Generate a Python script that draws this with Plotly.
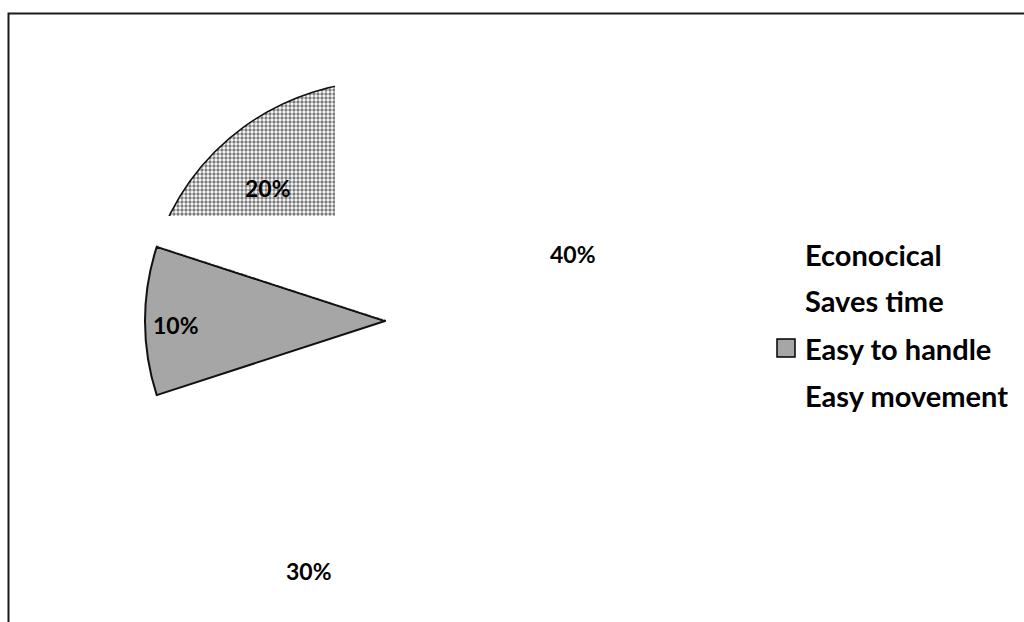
import math
import plotly.graph_objects as go

# Survey shares per reason
categories = ["Econocical", "Saves time", "Easy to handle", "Easy movement"]
shares = [40, 30, 10, 20]

# Slice styling
slice_fills = ["#ffffff", "#ffffff", "#a6a6a6", "#c2c2c2"]
slice_outline = [0, 0, 2, 1.6]
slice_patterns = ["", "", "", "."]
key_fills = [None, None, "#a6a6a6", None]

# Label placement: radius as a fraction of the pie radius, and a small turn (deg)
label_radius = [0.83, 1.09, 0.87, 0.74]
label_turn = [-1.7, -1.0, -1.0, -5.4]

W, H = 1024, 622
CX, CY, R = 385, 321, 240          # pie centre / radius in pixels
FONT = "Lato, Carlito, Calibri, sans-serif"


def fx(x):
    return x / W


def fy(y):
    return 1 - y / H


fig = go.Figure(
    go.Pie(
        labels=categories,
        values=shares,
        sort=False,
        direction="clockwise",
        rotation=0,
        textinfo="none",
        hoverinfo="skip",
        showlegend=False,
        marker=dict(
            colors=slice_fills,
            line=dict(color="#111111", width=slice_outline),
            pattern=dict(shape=slice_patterns, fgcolor="#7c7c7c",
                         size=4, solidity=0.55),
        ),
        domain=dict(x=[fx(CX - R), fx(CX + R)], y=[fy(CY + R), fy(CY - R)]),
    )
)

shapes = []
annotations = []

# Textured slice is only visible inside a window; blank out the rest of it
win_x1, win_y1 = 335, 216
total = sum(shares)
edge_deg = 360 * (1 - shares[-1] / total)          # shared edge with "Easy to handle"
a = math.radians(edge_deg)
u = (math.sin(a), -math.cos(a))
n = (math.cos(a), math.sin(a))
d = 1.2


def on_edge(t):
    return (CX + t * u[0] + d * n[0], CY + t * u[1] + d * n[1])


t_win = (CX - win_x1 + d * n[0]) / -u[0]
q0 = on_edge(0)
q1 = on_edge(t_win)
q2 = on_edge(R + 12)
top = CY - R - 8


def path(points):
    return "M " + " L ".join(f"{fx(x):.5f},{fy(y):.5f}" for x, y in points) + " Z"


mask_right = [(win_x1, top), (CX + 4, top), (CX + 4, q0[1]), q0, q1]
mask_low = [(CX - R - 12, win_y1), (win_x1, win_y1), q1, q2, (CX - R - 12, q2[1])]
for pts in (mask_right, mask_low):
    shapes.append(dict(type="path", path=path(pts), xref="paper", yref="paper",
                       fillcolor="#ffffff", line=dict(width=0), layer="above"))

# Percentage labels placed along each slice's mid-angle
cum = 0
for v, k, turn in zip(shares, label_radius, label_turn):
    mid = math.radians((cum + v / 2) / total * 360 + turn)
    cum += v
    x = CX + k * R * math.sin(mid)
    y = CY - k * R * math.cos(mid)
    annotations.append(dict(x=fx(x), y=fy(y), xref="paper", yref="paper",
                            xanchor="center", yanchor="middle",
                            text=f"{v}%", showarrow=False,
                            font=dict(family=FONT, size=23, color="#000000", weight="bold")))

# Legend
row0, gap = 254, 47
for i, name in enumerate(categories):
    yc = row0 + i * gap
    annotations.append(dict(x=fx(803), y=fy(yc), xref="paper", yref="paper",
                            xanchor="left", yanchor="middle", text=name, showarrow=False,
                            font=dict(family=FONT, size=29, color="#000000", weight="bold")))
    if key_fills[i]:
        shapes.append(dict(type="rect", xref="paper", yref="paper",
                           x0=fx(777), x1=fx(795), y0=fy(yc + 9), y1=fy(yc - 9),
                           fillcolor=key_fills[i], line=dict(color="#000000", width=1.5)))

# Chart frame
shapes.append(dict(type="rect", xref="paper", yref="paper",
                   x0=fx(8.5), x1=1.05, y0=-0.05, y1=fy(13.5),
                   fillcolor="rgba(0,0,0,0)", line=dict(color="#1a1a1a", width=2)))

fig.update_layout(
    width=W, height=H,
    margin=dict(l=0, r=0, t=0, b=0),
    paper_bgcolor="#ffffff",
    plot_bgcolor="#ffffff",
    shapes=shapes,
    annotations=annotations,
    showlegend=False,
)

fig.write_html("out.html")
